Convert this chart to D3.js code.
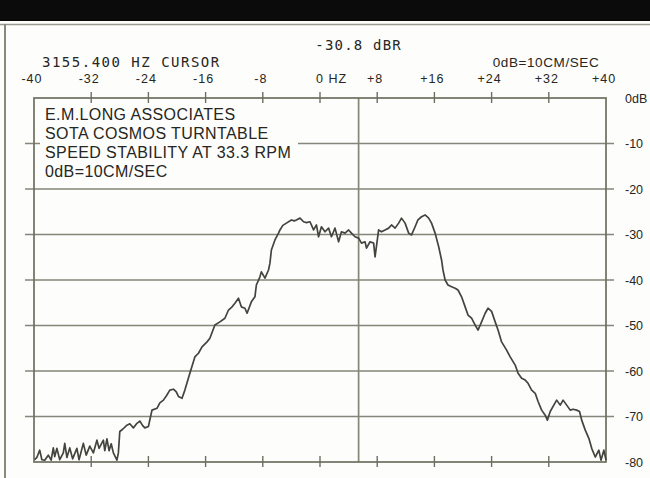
<!DOCTYPE html>
<html>
<head>
<meta charset="utf-8">
<script src="https://cdn.jsdelivr.net/npm/d3@7"></script>
<style>
  html, body { margin: 0; padding: 0; background: #fdfdfb; }
  svg { display: block; }
</style>
</head>
<body>
<svg id="chart" width="650" height="478"></svg>
<script>
// ---------- data ----------
const freqHz = [
  -39.9,-39.6,-39.2,-38.9,-38.5,-38.0,-37.6,-37.3,-37.1,-36.8,-36.4,-35.9,-35.7,-35.4,-35.0,-34.6,
  -34.0,-33.7,-33.1,-32.7,-32.2,-31.7,-31.2,-30.9,-30.3,-30.1,-29.8,-29.5,-29.2,-28.9,-28.4,-28.2,
  -28.0,-27.6,-27.0,-26.6,-26.1,-25.6,-25.2,-24.8,-24.5,-24.0,-23.5,-22.8,-22.4,-21.9,-21.5,-21.0,
  -20.5,-20.1,-19.8,-19.3,-18.9,-18.2,-17.5,-17.0,-16.5,-15.8,-15.4,-14.7,-14.0,-13.3,-12.8,-12.3,
  -11.9,-11.4,-11.0,-10.5,-10.2,-9.6,-9.1,-8.9,-8.4,-8.2,-7.7,-7.2,-7.0,-6.8,-6.3,-5.8,
  -5.6,-5.2,-4.7,-4.0,-3.6,-3.3,-2.8,-2.3,-1.9,-1.4,-0.9,-0.5,-0.2,0.2,0.7,1.2,
  1.6,2.1,2.6,3.0,3.5,4.0,4.4,4.9,5.4,5.8,6.3,6.5,7.0,7.5,7.7,8.2,
  8.6,9.1,9.6,10.0,10.5,11.0,11.4,11.9,12.4,12.8,13.3,13.7,14.2,14.7,15.2,15.6,
  16.1,16.6,17.0,17.2,17.5,17.9,18.4,18.9,19.3,19.8,20.3,20.7,21.2,21.7,22.1,22.6,
  23.1,23.5,24.0,24.5,24.9,25.4,26.1,26.6,27.3,27.7,28.2,28.7,29.1,29.6,30.1,30.5,
  31.0,31.5,31.8,32.2,32.7,33.1,33.6,34.0,34.5,35.0,35.4,35.9,36.3,36.6,37.1,37.6,
  38.0,38.5,39.0,39.3,39.7,40.0
];
const levelDb = [
  -79.5,-79.0,-77.4,-79.5,-79.6,-78.5,-79.6,-76.9,-78.8,-77.0,-79.5,-78.0,-75.9,-79.0,-76.9,-79.3,
  -77.0,-79.5,-75.9,-78.5,-76.5,-78.0,-75.2,-77.0,-75.2,-77.5,-74.9,-77.5,-76.0,-78.0,-79.6,-78.0,
  -73.3,-72.8,-71.9,-71.6,-72.5,-71.5,-71.0,-72.0,-72.5,-72.2,-68.6,-68.2,-67.0,-66.4,-65.5,-64.2,
  -64.0,-64.6,-65.6,-66.0,-64.2,-60.5,-56.9,-56.1,-54.7,-53.6,-52.8,-49.9,-49.2,-48.4,-46.6,-45.9,
  -45.1,-44.0,-45.9,-46.2,-47.3,-44.8,-43.7,-41.1,-39.3,-38.2,-39.6,-37.8,-36.3,-33.4,-31.2,-29.7,
  -29.0,-28.0,-27.5,-26.8,-27.0,-26.8,-26.4,-27.2,-27.4,-27.2,-29.0,-27.9,-30.5,-28.3,-29.4,-28.6,
  -30.5,-28.6,-31.6,-29.4,-29.7,-29.0,-29.7,-30.5,-30.8,-31.9,-31.6,-33.0,-31.6,-31.9,-34.9,-29.0,
  -29.4,-29.0,-28.6,-27.9,-28.6,-27.5,-26.4,-27.5,-29.7,-30.1,-28.3,-26.8,-26.1,-25.7,-26.4,-27.5,
  -29.7,-32.7,-35.6,-37.8,-40.0,-41.1,-41.5,-41.8,-42.2,-43.7,-45.9,-47.7,-48.4,-49.9,-51.0,-49.2,
  -47.3,-46.2,-46.9,-49.2,-51.0,-53.6,-55.4,-56.9,-58.7,-60.5,-61.6,-62.0,-62.7,-64.2,-64.9,-66.7,
  -68.6,-69.7,-70.8,-68.9,-67.5,-66.4,-67.5,-66.4,-67.5,-68.6,-68.4,-68.6,-68.9,-70.8,-73.0,-74.8,
  -77.0,-78.9,-77.4,-79.6,-77.4,-79.6
];
const xTickValues = [-40, -32, -24, -16, -8, 0, 8, 16, 24, 32, 40];
const xTickLabels = ["-40", "-32", "-24", "-16", "-8", "0 HZ", "+8", "+16", "+24", "+32", "+40"];
const yTickValues = [0, -10, -20, -30, -40, -50, -60, -70, -80];
const yTickLabels = ["0dB", "-10", "-20", "-30", "-40", "-50", "-60", "-70", "-80"];
const cursorHz = 5.4;
const cursorReadout = "-30.8 dBR";
const cursorLabel = "3155.400 HZ CURSOR";
const refLabel = "0dB=10CM/SEC";
const boxLines = ["E.M.LONG ASSOCIATES", "SOTA COSMOS TURNTABLE", "SPEED STABILITY AT 33.3 RPM", "0dB=10CM/SEC"];

// ---------- drawing ----------
const svg = d3.select("#chart");
const W = 650, H = 478;
const L = 34, R = 606, T = 98, B = 462;
const x = d3.scaleLinear().domain([-40, 40]).range([L, R]);
const y = d3.scaleLinear().domain([-80, 0]).range([B, T]);

const gridCol = "#85857a";
const frameCol = "#6e6e60";
const textCol = "#262622";

svg.append("rect").attr("width", W).attr("height", H).attr("fill", "#fdfdfb");
// top black band
svg.append("rect").attr("x", 0).attr("y", 0).attr("width", W).attr("height", 21).attr("fill", "#0b0b0b");
svg.append("line").attr("x1", 0).attr("x2", W).attr("y1", 24.5).attr("y2", 24.5)
  .attr("stroke", "#9a9a92").attr("stroke-width", 1.5);
svg.append("line").attr("x1", 5).attr("x2", 5).attr("y1", 24).attr("y2", H)
  .attr("stroke", "#8a8a7c").attr("stroke-width", 2);

// horizontal grid lines with outer ticks
const g = svg.append("g");
yTickValues.forEach(v => {
  if (v === 0 || v === -80) return;
  g.append("line").attr("x1", L - 9).attr("x2", R + 8).attr("y1", y(v)).attr("y2", y(v))
    .attr("stroke", gridCol).attr("stroke-width", 1.7);
});
// cursor line
g.append("line").attr("x1", x(cursorHz)).attr("x2", x(cursorHz)).attr("y1", T).attr("y2", B)
  .attr("stroke", gridCol).attr("stroke-width", 1.7);

// text box (white) covering grid
svg.append("rect").attr("x", L + 6).attr("y", T + 2).attr("width", 258).attr("height", 82).attr("fill", "#fdfdfb");

// frame
svg.append("rect").attr("x", L).attr("y", T).attr("width", R - L).attr("height", B - T)
  .attr("fill", "none").attr("stroke", frameCol).attr("stroke-width", 1.7);

// top & bottom x ticks
xTickValues.forEach(v => {
  if (v === -40 || v === 40) return;
  svg.append("line").attr("x1", x(v)).attr("x2", x(v)).attr("y1", T - 6).attr("y2", T + 5)
    .attr("stroke", frameCol).attr("stroke-width", 1.4);
  svg.append("line").attr("x1", x(v)).attr("x2", x(v)).attr("y1", B - 6).attr("y2", B + 5)
    .attr("stroke", frameCol).attr("stroke-width", 1.4);
});

// x tick labels
svg.append("g").selectAll("text").data(xTickValues).join("text")
  .attr("x", (d, i) => xTickLabels[i] === "0 HZ" ? x(d) - 4 : x(d) - 2)
  .attr("y", 83)
  .attr("text-anchor", (d, i) => xTickLabels[i] === "0 HZ" ? "start" : "middle")
  .attr("font-family", "Liberation Sans, Arial, sans-serif")
  .attr("font-size", 12.5).attr("letter-spacing", 1).attr("fill", textCol)
  .text((d, i) => xTickLabels[i]);

// y tick labels (right)
svg.append("g").selectAll("text").data(yTickValues).join("text")
  .attr("x", 625).attr("y", d => y(d)).attr("dy", "0.36em")
  .attr("font-family", "Liberation Sans, Arial, sans-serif")
  .attr("font-size", 12.5).attr("fill", textCol)
  .text((d, i) => yTickLabels[i]);

// header texts
svg.append("text").attr("x", x(cursorHz)).attr("y", 50).attr("text-anchor", "middle")
  .attr("font-family", "DejaVu Sans Mono, monospace").attr("font-size", 14).attr("letter-spacing", 1.2)
  .attr("fill", textCol).text(cursorReadout);
svg.append("text").attr("x", 42).attr("y", 67)
  .attr("font-family", "DejaVu Sans Mono, monospace").attr("font-size", 14).attr("letter-spacing", 1.5)
  .attr("fill", textCol).text(cursorLabel);
svg.append("text").attr("x", 546).attr("y", 67).attr("text-anchor", "middle")
  .attr("font-family", "Liberation Sans, Arial, sans-serif").attr("font-size", 13.5).attr("letter-spacing", 0.6)
  .attr("fill", textCol).text(refLabel);

// box text
svg.append("g").selectAll("text").data(boxLines).join("text")
  .attr("x", 45).attr("y", (d, i) => 120 + i * 19)
  .attr("font-family", "Liberation Sans, Arial, sans-serif")
  .attr("font-size", 16).attr("letter-spacing", 0.4).attr("fill", textCol)
  .text(d => d);

// spectrum curve
const pts = freqHz.map((f, i) => [f, levelDb[i]]);
svg.append("path").datum(pts)
  .attr("fill", "none").attr("stroke", "#44443e").attr("stroke-width", 1.7)
  .attr("stroke-linejoin", "round")
  .attr("d", d3.line().x(d => x(d[0])).y(d => y(d[1])));
</script>
</body>
</html>
